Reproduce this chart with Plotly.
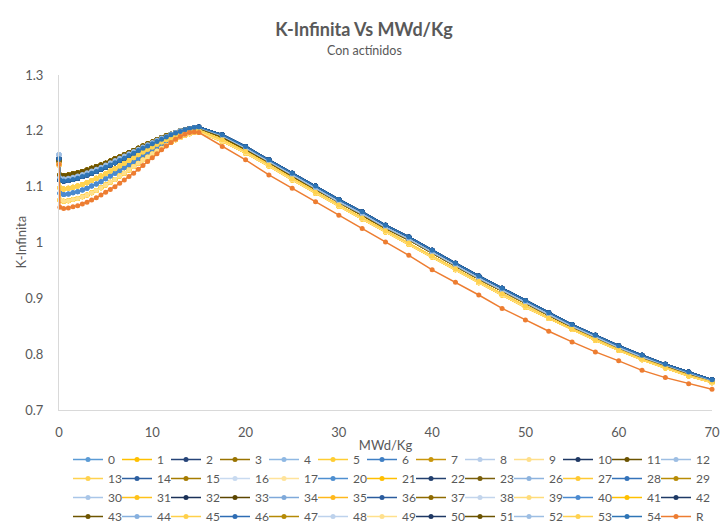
import plotly.graph_objects as go

# Burnup steps (MWd/Kg)
X = [0, 0.1, 0.5, 1, 1.5, 2, 2.5, 3, 3.5, 4, 4.5, 5, 5.5, 6, 6.5, 7, 7.5, 8, 8.5, 9,
     9.5, 10, 10.5, 11, 11.5, 12, 12.5, 13, 13.5, 14, 14.5, 15, 17.5, 20, 22.5, 25,
     27.5, 30, 32.5, 35, 37.5, 40, 42.5, 45, 47.5, 50, 52.5, 55, 57.5, 60, 62.5, 65,
     67.5, 70]

# K-infinity curves (series that overlap share a curve)
K_OLIVE = [1.146, 1.121, 1.120, 1.121, 1.123, 1.125, 1.127, 1.130, 1.133, 1.136, 1.139, 1.142,
           1.146, 1.150, 1.153, 1.157, 1.161, 1.165, 1.169, 1.173, 1.177, 1.180, 1.184, 1.188,
           1.191, 1.194, 1.197, 1.200, 1.202, 1.204, 1.205, 1.205, 1.189, 1.167, 1.144, 1.119,
           1.096, 1.072, 1.050, 1.026, 1.005, 0.981, 0.958, 0.935, 0.913, 0.891, 0.870, 0.849,
           0.830, 0.811, 0.794, 0.779, 0.765, 0.752]
K_LIGHTBLUE = [1.157, 1.116, 1.114, 1.115, 1.117, 1.119, 1.122, 1.125, 1.128, 1.131, 1.135, 1.139,
               1.143, 1.147, 1.151, 1.155, 1.159, 1.163, 1.167, 1.171, 1.175, 1.179, 1.183, 1.187,
               1.190, 1.194, 1.197, 1.200, 1.202, 1.204, 1.206, 1.206, 1.191, 1.169, 1.145, 1.120,
               1.097, 1.073, 1.051, 1.027, 1.006, 0.982, 0.959, 0.936, 0.914, 0.892, 0.871, 0.850,
               0.831, 0.812, 0.795, 0.780, 0.766, 0.753]
K_BLUE = [1.150, 1.112, 1.110, 1.111, 1.113, 1.115, 1.118, 1.121, 1.124, 1.127, 1.131, 1.135,
          1.139, 1.143, 1.147, 1.151, 1.156, 1.160, 1.165, 1.169, 1.173, 1.177, 1.181, 1.185,
          1.189, 1.193, 1.196, 1.199, 1.202, 1.204, 1.206, 1.207, 1.193, 1.172, 1.148, 1.124,
          1.101, 1.077, 1.055, 1.031, 1.010, 0.986, 0.963, 0.940, 0.918, 0.896, 0.874, 0.853,
          0.834, 0.815, 0.798, 0.782, 0.768, 0.754]
K_YELLOW = [1.141, 1.098, 1.096, 1.097, 1.099, 1.101, 1.104, 1.107, 1.111, 1.115, 1.119, 1.123,
            1.128, 1.132, 1.137, 1.142, 1.147, 1.152, 1.157, 1.162, 1.167, 1.171, 1.176, 1.180,
            1.184, 1.188, 1.192, 1.195, 1.198, 1.200, 1.201, 1.201, 1.184, 1.163, 1.139, 1.114,
            1.090, 1.067, 1.044, 1.021, 0.999, 0.976, 0.953, 0.930, 0.908, 0.886, 0.865, 0.845,
            0.826, 0.808, 0.791, 0.776, 0.762, 0.750]
K_BLUE_LOW = [1.145, 1.088, 1.086, 1.087, 1.089, 1.091, 1.094, 1.097, 1.101, 1.105, 1.109, 1.114,
              1.119, 1.124, 1.129, 1.134, 1.139, 1.145, 1.150, 1.156, 1.161, 1.166, 1.171, 1.176,
              1.181, 1.186, 1.190, 1.194, 1.198, 1.201, 1.203, 1.204, 1.190, 1.170, 1.147, 1.123,
              1.100, 1.076, 1.054, 1.030, 1.009, 0.985, 0.962, 0.939, 0.917, 0.895, 0.873, 0.852,
              0.833, 0.814, 0.797, 0.781, 0.767, 0.754]
K_GOLD_LOW = [1.139, 1.076, 1.074, 1.075, 1.077, 1.079, 1.082, 1.085, 1.089, 1.093, 1.098, 1.103,
              1.108, 1.113, 1.119, 1.124, 1.130, 1.136, 1.142, 1.148, 1.153, 1.159, 1.164, 1.169,
              1.174, 1.179, 1.184, 1.188, 1.192, 1.195, 1.197, 1.198, 1.181, 1.160, 1.137, 1.112,
              1.088, 1.065, 1.042, 1.019, 0.997, 0.974, 0.951, 0.928, 0.906, 0.884, 0.864, 0.844,
              0.825, 0.807, 0.790, 0.775, 0.761, 0.749]
K_R = [1.140, 1.063, 1.061, 1.062, 1.064, 1.066, 1.069, 1.072, 1.076, 1.080, 1.085, 1.090,
       1.095, 1.100, 1.106, 1.112, 1.118, 1.124, 1.131, 1.138, 1.145, 1.152, 1.159, 1.166,
       1.173, 1.179, 1.185, 1.190, 1.194, 1.197, 1.198, 1.197, 1.172, 1.148, 1.121, 1.097,
       1.073, 1.049, 1.025, 1.001, 0.977, 0.951, 0.929, 0.906, 0.882, 0.861, 0.841, 0.822,
       0.804, 0.788, 0.771, 0.758, 0.747, 0.737]

CURVES = {"olive": K_OLIVE, "lightblue": K_LIGHTBLUE, "blue": K_BLUE, "yellow": K_YELLOW,
          "bluelow": K_BLUE_LOW, "goldlow": K_GOLD_LOW, "R": K_R}

SERIES_NAMES = ["0", "1", "2", "3", "4", "5", "6", "7", "8", "9", "10", "11", "12",
                "13", "14", "15", "16", "17", "20", "21", "22", "23", "26", "27", "28", "29",
                "30", "31", "32", "33", "34", "35", "36", "37", "38", "39", "40", "41", "42",
                "43", "44", "45", "46", "47", "48", "49", "50", "51", "52", "53", "54", "R"]

SERIES_CURVE = ["bluelow", "goldlow", "blue", "olive", "lightblue", "yellow", "blue", "olive",
                "lightblue", "yellow", "blue", "olive", "lightblue",
                "goldlow", "blue", "olive", "lightblue", "yellow", "bluelow", "goldlow", "blue",
                "olive", "lightblue", "yellow", "blue", "olive",
                "lightblue", "goldlow", "blue", "olive", "lightblue", "yellow", "blue", "olive",
                "lightblue", "yellow", "bluelow", "goldlow", "blue",
                "olive", "lightblue", "yellow", "blue", "olive", "lightblue", "goldlow", "blue",
                "olive", "lightblue", "yellow", "blue", "R"]

SERIES_COLORS = ["#5B9BD5", "#FFC000", "#264478", "#997300", "#8FB8E3", "#FFCD33", "#3F7FC4",
                 "#C9960C", "#B7CDEA", "#FFDF8A", "#1F3864", "#6B5300", "#9DBEE3",
                 "#FFD24F", "#2C5FA0", "#A67C00", "#C8DAF0", "#FFE39A", "#4E8FD0", "#FFBF00",
                 "#23406F", "#7A5F0A", "#8DB3DE", "#FFC933", "#3473BA", "#B88C05",
                 "#A9C6E8", "#FFC21A", "#1B3158", "#5C4600", "#7FA9DA", "#FFB81C", "#2B5C9E",
                 "#8F6B00", "#C3D5EC", "#FFDC7A", "#4B8AD0", "#FFC000", "#1E3A66",
                 "#6E5500", "#86B0DF", "#FFD04A", "#2E6DB4", "#B58A06", "#BDD2EC", "#FFE08C",
                 "#1F3864", "#6B5300", "#9DBEE3", "#FFD24F", "#2E75B6", "#ED7D31"]

TEXT = "#595959"
FONT = "Lato"

fig = go.Figure()
for name, curve, color in zip(SERIES_NAMES, SERIES_CURVE, SERIES_COLORS):
    fig.add_trace(go.Scatter(
        x=X, y=CURVES[curve], name=name, mode="lines+markers",
        line=dict(color=color, width=1.5),
        marker=dict(color=color, size=5, symbol="circle"),
        cliponaxis=False,
    ))

fig.update_layout(
    width=728, height=531,
    margin=dict(l=59, r=16, t=75, b=121, autoexpand=False),
    paper_bgcolor="white", plot_bgcolor="white",
    font=dict(family=FONT, color=TEXT, size=13),
    title=dict(text="<b>K-Infinita Vs MWd/Kg</b>", x=0.5, xanchor="center",
               y=1 - 30 / 531, yanchor="middle", yref="container",
               font=dict(family=FONT, size=18, color=TEXT)),
    annotations=[
        dict(text="Con actínidos", xref="paper", yref="paper",
             x=(364 - 59) / 653, y=1 + (75 - 50) / 335,
             xanchor="center", yanchor="middle", showarrow=False,
             font=dict(family=FONT, size=12.5, color=TEXT)),
        dict(text="K-Infinita", xref="paper", yref="paper", textangle=-90,
             x=(20 - 59) / 653, y=0.5, xanchor="center", yanchor="middle",
             showarrow=False, font=dict(family=FONT, size=13, color=TEXT)),
    ],
    xaxis=dict(range=[0, 70], dtick=10, showgrid=False, zeroline=False, automargin=False,
               showline=True, linecolor="#D9D9D9", linewidth=1, ticks="",
               ticklabelstandoff=10, tickfont=dict(size=13, color=TEXT),
               title=dict(text="MWd/Kg", standoff=2, font=dict(size=13, color=TEXT))),
    yaxis=dict(range=[0.7, 1.3], dtick=0.1, showgrid=False, zeroline=False, automargin=False,
               showline=True, linecolor="#D9D9D9", linewidth=1, ticks="",
               ticklabelstandoff=12, tickfont=dict(size=13, color=TEXT)),
    legend=dict(orientation="h", x=(68 - 59) / 653, xanchor="left",
                y=-(445 - 410) / 335, yanchor="top",
                entrywidth=4, entrywidthmode="pixels", itemwidth=30,
                bgcolor="rgba(0,0,0,0)", traceorder="normal",
                font=dict(family=FONT, size=12, color=TEXT)),
    showlegend=True,
)

POST = (
    "document.body.style.margin='0';"
    "document.body.style.overflow='hidden';"
    "document.querySelectorAll('.legend .scrollbox').forEach(function(g){"
    "g.removeAttribute('clip-path');g.style.clipPath='none';});"
)

fig.write_html("out.html", config={"displayModeBar": False}, post_script=POST)
